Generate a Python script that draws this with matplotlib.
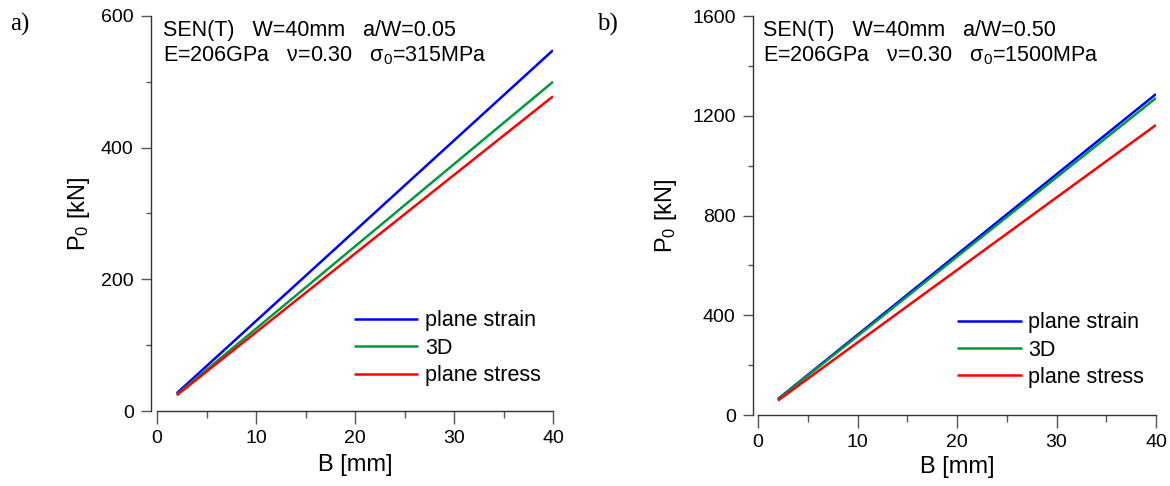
import numpy as np
import matplotlib
matplotlib.use("Agg")
import matplotlib.pyplot as plt

plt.rcParams['font.family'] = ['Liberation Sans', 'DejaVu Sans']
plt.rcParams['mathtext.fontset'] = 'custom'
plt.rcParams['mathtext.rm'] = 'Liberation Sans'
plt.rcParams['mathtext.it'] = 'Liberation Sans'

# thickness B [mm]
B = [2, 40]

# panel a) a/W=0.05, sigma0=315MPa
a_strain = [27, 548]
a_3d = [25, 500]
a_stress = [24, 478]

# panel b) a/W=0.50, sigma0=1500MPa
b_strain = [64, 1287]
b_3d = [62, 1271]
b_stress = [58, 1163]

labels = ["plane strain", "3D", "plane stress"]
colors = ["#0000ff", "#009a3e", "#ff0000"]

fig = plt.figure(figsize=(11.7, 4.86), dpi=100)
ax1 = fig.add_axes([157/1170, 75/486, 396/1170, 395/486])
ax2 = fig.add_axes([758/1170, 71/486, 398/1170, 399/486])


def style(ax, ymax, ystep, off):
    ax.set_xlim(0, 40)
    ax.set_ylim(0, ymax)
    for s in ["top", "right"]:
        ax.spines[s].set_visible(False)
    ax.spines["left"].set_position(("outward", off))
    ax.spines["left"].set_bounds(0, ymax)
    ax.spines["bottom"].set_bounds(0, 40)
    for s in ["left", "bottom"]:
        ax.spines[s].set_color("#333333")
        ax.spines[s].set_linewidth(1)
    ax.set_xticks(np.arange(0, 41, 10))
    ax.set_xticks(np.arange(5, 40, 10), minor=True)
    ax.set_yticks(np.arange(0, ymax + 1, ystep))
    ax.set_yticks(np.arange(ystep / 2, ymax, ystep), minor=True)
    ax.tick_params(axis="x", which="major", length=9, width=1, color="#555555",
                   labelsize=14, pad=5)
    ax.tick_params(axis="x", which="minor", length=5, width=1, color="#555555")
    ax.tick_params(axis="y", which="major", length=7.5, width=1, color="#555555",
                   labelsize=14, pad=5)
    ax.tick_params(axis="y", which="minor", length=3.5, width=1, color="#555555")
    ax.set_xlabel("B [mm]", fontsize=17)
    ax.set_ylabel(r"P$_0$ [kN]", fontsize=17)


for ax, ys in [(ax1, [a_strain, a_3d, a_stress]), (ax2, [b_strain, b_3d, b_stress])]:
    for y, lab, c in zip(ys, labels, colors):
        ax.plot(B, y, color=c, lw=1.8, label=lab, solid_capstyle="butt")

style(ax1, 600, 200, 4.3)
style(ax2, 1600, 400, 3.6)

ax1.xaxis.set_label_coords(0.5, -0.108)
ax2.xaxis.set_label_coords(0.5, -0.103)
ax1.yaxis.set_label_coords(-0.165, 0.5)
ax2.yaxis.set_label_coords(-0.198, 0.5)

ax1.text(0.015, 0.949, "SEN(T)   W=40mm   a/W=0.05", transform=ax1.transAxes,
         fontsize=15.5, va="baseline")
ax1.text(0.015, 0.886, r"E=206GPa   ν=0.30   σ$_0$=315MPa", transform=ax1.transAxes,
         fontsize=15.5, va="baseline")
ax2.text(0.013, 0.95, "SEN(T)   W=40mm   a/W=0.50", transform=ax2.transAxes,
         fontsize=15.5, va="baseline")
ax2.text(0.013, 0.887, r"E=206GPa   ν=0.30   σ$_0$=1500MPa", transform=ax2.transAxes,
         fontsize=15.5, va="baseline")

for ax, x0, y0 in [(ax1, 0.497, 0.255), (ax2, 0.5, 0.258)]:
    ax.legend(loc="upper left", bbox_to_anchor=(x0, y0), frameon=False,
              fontsize=15.5, handlelength=3.0, handletextpad=0.3,
              labelspacing=0.3, borderpad=0, borderaxespad=0)

fig.text(10/1170, 1 - 24/486, "a)", fontsize=18, family="Liberation Serif", va="center")
fig.text(597/1170, 1 - 24/486, "b)", fontsize=18, family="Liberation Serif", va="center")

fig.savefig("out.png", dpi=100)
